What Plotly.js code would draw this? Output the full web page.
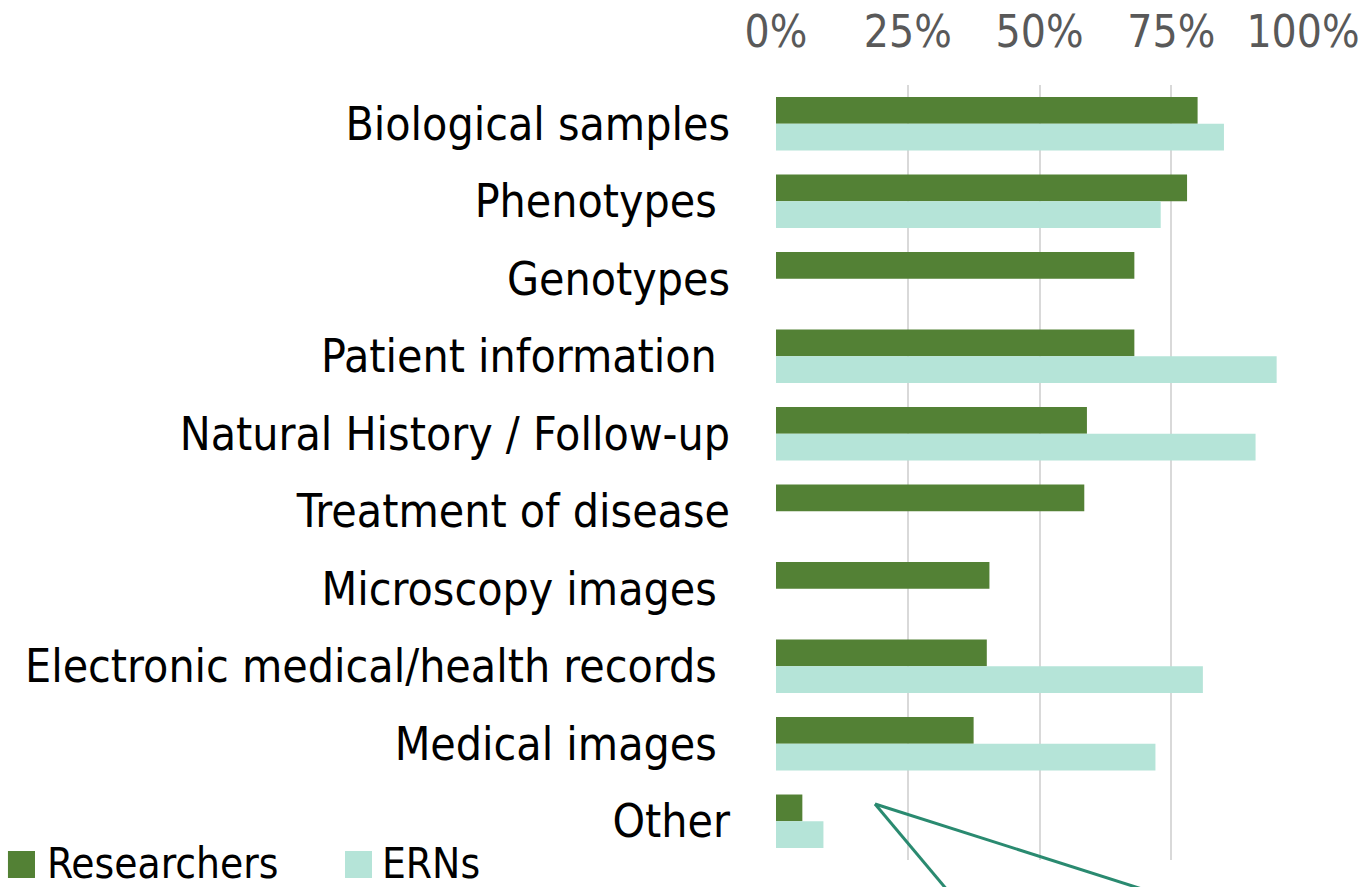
<!DOCTYPE html>
<html>
<head>
<meta charset="utf-8">
<script src="https://cdn.plot.ly/plotly-3.0.1.min.js"></script>
<style>html,body{margin:0;padding:0;background:#fff;}#chart{width:1370px;height:887px;}</style>
</head>
<body>
<div id="chart"></div>
<script>
const categories = [
  "Biological samples",
  "Phenotypes\u00a0",
  "Genotypes",
  "Patient information\u00a0",
  "Natural History / Follow-up",
  "Treatment of disease",
  "Microscopy images\u00a0",
  "Electronic medical/health records\u00a0",
  "Medical images\u00a0",
  "Other"
];
const seriesNames = ["Researchers", "ERNs"];
const researchers = [80, 78, 68, 68, 59, 58.5, 40.5, 40, 37.5, 5];
const erns = [85, 73, null, 95, 91, null, null, 81, 72, 9];
const tickVals = [0, 25, 50, 75, 100];
const tickText = ["0%", "25%", "50%", "75%", "100%"];
const colors = ["#538135", "#b5e4d8"];

const FONT = "DejaVu Sans Condensed, DejaVu Sans, sans-serif";

const data = [
  {type: "bar", orientation: "h", name: seriesNames[0], y: categories, x: researchers,
   marker: {color: colors[0], line: {width: 0}}, hoverinfo: "x+y", showlegend: false},
  {type: "bar", orientation: "h", name: seriesNames[1], y: categories, x: erns,
   marker: {color: colors[1], line: {width: 0}}, hoverinfo: "x+y", showlegend: false}
];

// Manual legend (large square swatches like the original), placed in the left margin
const legendSwatches = [
  {x0: -1.4574, x1: -1.4061, text: -1.3871},
  {x0: -0.8178, x1: -0.7666, text: -0.7514}
];
const shapes = [];
const annotations = [];
legendSwatches.forEach((s, i) => {
  shapes.push({type: "rect", xref: "paper", yref: "paper", x0: s.x0, x1: s.x1,
    y0: -0.0232, y1: 0.0116, fillcolor: colors[i], line: {width: 0}});
  annotations.push({xref: "paper", yref: "paper", x: s.text, y: -0.0385,
    xanchor: "left", yanchor: "bottom", showarrow: false, text: seriesNames[i],
    font: {family: FONT, size: 42, color: "#000"}});
});
// Callout lines
shapes.push({type: "line", xref: "paper", yref: "paper", x0: 0.1879, y0: 0.0723, x1: 0.3264, y1: -0.04,
  line: {color: "#2a8a70", width: 3}});
shapes.push({type: "line", xref: "paper", yref: "paper", x0: 0.1879, y0: 0.0723, x1: 0.7064, y1: -0.04,
  line: {color: "#2a8a70", width: 3}});

const layout = {
  width: 1370, height: 887,
  margin: {l: 776, r: 67, t: 85, b: 27, autoexpand: false},
  paper_bgcolor: "#fff", plot_bgcolor: "#fff",
  barmode: "group", bargap: 0.31, bargroupgap: 0,
  font: {family: FONT, color: "#000"},
  showlegend: false,
  xaxis: {
    side: "top", range: [0, 100], tickvals: tickVals, ticktext: tickText,
    showgrid: true, gridcolor: "#d9d9d9", gridwidth: 2,
    zeroline: false, showline: false, ticks: "", automargin: false,
    tickfont: {family: FONT, size: 44, color: "#595959"},
    ticklabelstandoff: 28, fixedrange: true
  },
  yaxis: {
    type: "category", autorange: "reversed", automargin: false,
    showgrid: false, zeroline: false, showline: false, ticks: "",
    tickfont: {family: FONT, size: 46, color: "#000"},
    ticklabelstandoff: 45, fixedrange: true
  },
  shapes: shapes,
  annotations: annotations
};

Plotly.newPlot("chart", data, layout, {displayModeBar: false, staticPlot: true});
</script>
</body>
</html>
